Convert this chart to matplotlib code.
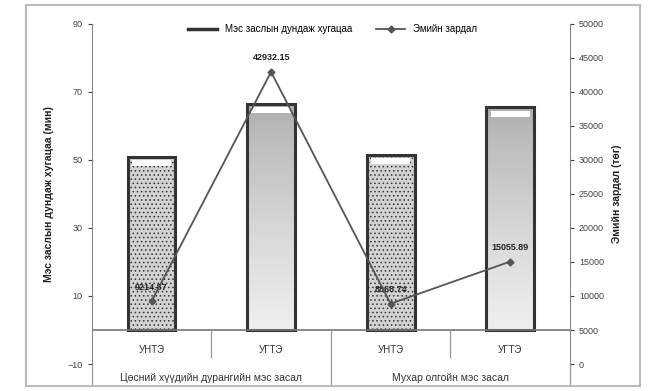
"""Surgery duration (bars) and drug cost (line) for two operation types."""

import matplotlib.pyplot as plt
import matplotlib.patches as mpatches
import numpy as np

plt.rcParams['font.family'] = ['Liberation Sans', 'DejaVu Sans']
plt.rcParams['hatch.color'] = "#9a9a9a"
plt.rcParams['hatch.linewidth'] = 0.6

categories = ["УНТЭ", "УГТЭ", "УНТЭ", "УГТЭ"]
groups = ["Цөсний хүүдийн дурангийн мэс засал", "Мухар олгойн мэс засал"]
duration = [51, 66.5, 51.5, 65.5]
cost = [9214.87, 42932.15, 8868.74, 15055.89]
cost_labels = ["9214.87", "42932.15", "8868.74", "15055.89"]

left_ticks = [-10, 10, 30, 50, 70, 90]
right_ticks = list(range(0, 50001, 5000))

fig = plt.figure(figsize=(6.65, 3.91), dpi=100)
ax = fig.add_axes([0.138, 0.069, 0.719, 0.870])
ax2 = ax.twinx()

x = np.arange(len(categories))
width = 0.40

# bars: stippled for УНТЭ, vertical gradient for УГТЭ
bars = ax.bar(x, duration, width, color="#d2d2d2", edgecolor="#333333",
              linewidth=2.2, zorder=2)
grad = np.linspace(0, 1, 100).reshape(-1, 1)
for i, b in enumerate(bars):
    if i % 2 == 0:
        b.set_hatch("....")
    else:
        b.set_facecolor("none")
        im = ax.imshow(grad, cmap="Greys", vmin=-0.45, vmax=3.0, aspect="auto",
                       extent=[b.get_x(), b.get_x() + width, 0, duration[i]],
                       origin="lower", zorder=1.5)
        im.set_clip_path(b)
    # white highlight strip at the top of each bar
    ax.bar(x[i], 1.8, width * 0.82, bottom=duration[i] - 2.8, color="white",
           edgecolor="none", zorder=3)

ax.set_xlim(-0.5, 3.5)
ax.set_ylim(-10, 90)
ax.set_yticks(left_ticks)
ax.set_xticks([])
ax.axhline(0, color="#777777", linewidth=1.2, zorder=2)

# category and group labels below the zero line
for i, c in enumerate(categories):
    ax.text(x[i], -6, c, ha="center", va="center", fontsize=7, color="#333333")
for j, g in enumerate(groups):
    ax.text(0.5 + 2 * j, -14.2, g, ha="center", va="center", fontsize=7.5,
            color="#333333", clip_on=False)
for sep in [0.5, 2.5]:
    ax.plot([sep, sep], [0, -8], color="#999999", linewidth=0.9, clip_on=False)
for sep in [-0.5, 1.5, 3.5]:
    ax.plot([sep, sep], [0 if sep == 1.5 else -10, -16.5], color="#999999",
            linewidth=0.9, clip_on=False)

ax2.plot(x, cost, color="#555555", linewidth=1.3, marker="D", markersize=3.5,
         zorder=4)
for i, v in enumerate(cost):
    ax2.annotate(cost_labels[i], (x[i], v), xytext=(0, 7), textcoords="offset points",
                 ha="center", va="bottom", fontsize=6.5, fontweight="bold",
                 color="#222222")
ax2.set_ylim(0, 50000)
ax2.set_yticks(right_ticks)

for a in (ax, ax2):
    a.spines["top"].set_visible(False)
    a.spines["bottom"].set_visible(False)
    a.tick_params(labelsize=6.5, colors="#444444", length=3, width=0.8)
ax.spines["right"].set_visible(False)
ax2.spines["left"].set_visible(False)
ax.spines["left"].set_color("#888888")
ax2.spines["right"].set_color("#888888")

ax.set_ylabel("Мэс заслын дундаж хугацаа (мин)", fontsize=7.5, fontweight="bold",
              color="#222222", labelpad=10)
ax2.set_ylabel("Эмийн зардал (төг)", fontsize=7.5, fontweight="bold",
               color="#222222", labelpad=6)

handles = [plt.Line2D([], [], color="#333333", linewidth=2.5),
           plt.Line2D([], [], color="#555555", linewidth=1.3, marker="D",
                      markersize=3.5)]
fig.legend(handles, ["Мэс заслын дундаж хугацаа", "Эмийн зардал"], loc="center",
           bbox_to_anchor=(0.50, 0.925), ncol=2, frameon=False, fontsize=7,
           handlelength=3, columnspacing=2.5)

# outer chart frame
fig.patches.append(mpatches.Rectangle((0.039, 0.013), 0.923, 0.975,
                                      transform=fig.transFigure, fill=False,
                                      edgecolor="#bbbbbb", linewidth=1.5))

fig.savefig("out.png", dpi=100)
